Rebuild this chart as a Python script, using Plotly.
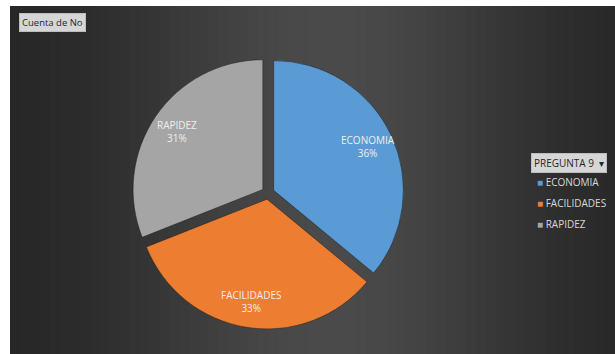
import math
import plotly.graph_objects as go

# Survey answers to "PREGUNTA 9" (share of "No" responses)
categories = ["ECONOMIA", "FACILIDADES", "RAPIDEZ"]
values = [36, 33, 31]
colors = ["#5b9bd5", "#ed7d31", "#a5a5a5"]

W, H = 615, 354
chart_left, chart_top = 10, 6

# Pie placement (pixels)
pie_cx, pie_cy, pie_half = 268, 193, 136
pull = 0.048
label_frac = 0.80

fig = go.Figure()

fig.add_trace(go.Pie(
    labels=categories,
    values=values,
    sort=False,
    direction="clockwise",
    rotation=0,
    pull=[pull] * len(values),
    marker=dict(colors=colors, line=dict(color="rgba(30,30,30,0.5)", width=1)),
    textinfo="none",
    hoverinfo="skip",
    showlegend=False,
    domain=dict(x=[(pie_cx - pie_half) / W, (pie_cx + pie_half) / W],
                y=[1 - (pie_cy + pie_half) / H, 1 - (pie_cy - pie_half) / H]),
))

# Dark chart area with a soft horizontal gradient (lighter toward the middle)
shapes = []
n_strips = 61
x0 = chart_left / W
step = (1 - x0) / n_strips
dark, light = 36, 74
for i in range(n_strips):
    xc = chart_left + (i + 0.5) * (W - chart_left) / n_strips
    t = math.exp(-((xc - 330) / 200) ** 2)
    v = int(round(dark + (light - dark) * t))
    shapes.append(dict(
        type="rect", xref="paper", yref="paper", layer="below",
        x0=x0 + i * step, x1=x0 + (i + 1) * step + 0.002,
        y0=0, y1=1 - chart_top / H,
        fillcolor=f"rgb({v},{v},{v})", line=dict(width=0),
    ))

annotations = []

# Data labels: category name and percentage inside each slice
radius = pie_half / (1 + pull)
total = sum(values)
cum = 0
for cat, val in zip(categories, values):
    mid = (cum + val / 2) / total * 2 * math.pi
    cum += val
    dist = (pull + label_frac) * radius
    px = pie_cx + dist * math.sin(mid)
    py = pie_cy - dist * math.cos(mid)
    annotations.append(dict(
        text=f"{cat}<br>{round(100 * val / total)}%",
        xref="paper", yref="paper", x=px / W, y=1 - py / H,
        xanchor="center", yanchor="middle", showarrow=False,
        font=dict(family="Open Sans", size=10, color="#eeeeee"),
    ))

# Field buttons
annotations.append(dict(
    text="Cuenta de No", xref="paper", yref="paper",
    x=19 / W, y=1 - 13 / H, xanchor="left", yanchor="top",
    showarrow=False, font=dict(family="Open Sans", size=9.5, color="#262626"),
    bgcolor="#d6d6d6", bordercolor="#bdbdbd", borderwidth=1, borderpad=2,
))
annotations.append(dict(
    text="PREGUNTA 9  ▾", xref="paper", yref="paper",
    x=531 / W, y=1 - 153 / H, xanchor="left", yanchor="top",
    showarrow=False, font=dict(family="Open Sans", size=10, color="#262626"),
    bgcolor="#d6d6d6", bordercolor="#bdbdbd", borderwidth=1, borderpad=2,
))

# Legend entries
for i, (cat, col) in enumerate(zip(categories, colors)):
    annotations.append(dict(
        text=f"<span style='color:{col}'>■</span> {cat}",
        xref="paper", yref="paper",
        x=535 / W, y=1 - (182 + 21 * i) / H, xanchor="left", yanchor="middle",
        showarrow=False, font=dict(family="Open Sans", size=10, color="#d9d9d9"),
    ))

fig.update_layout(
    width=W, height=H,
    margin=dict(l=0, r=0, t=0, b=0),
    paper_bgcolor="white",
    plot_bgcolor="white",
    shapes=shapes,
    annotations=annotations,
)

fig.write_html("out.html")
